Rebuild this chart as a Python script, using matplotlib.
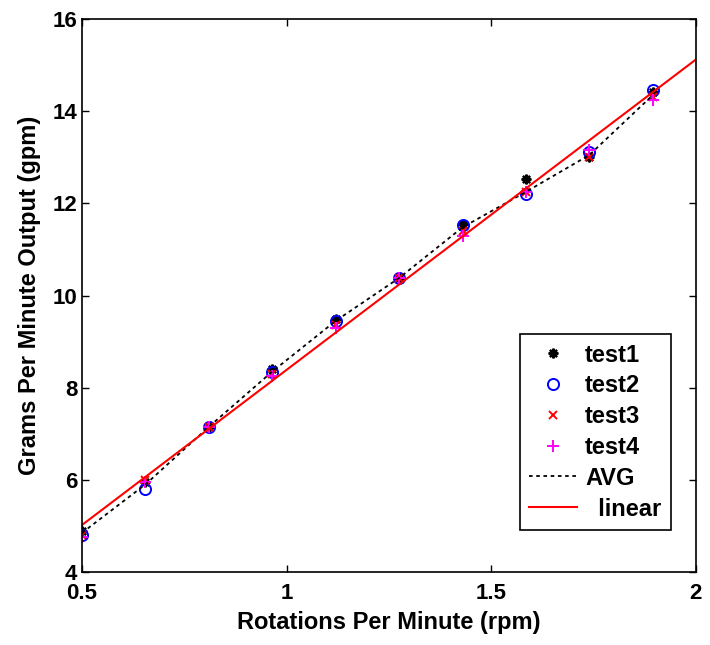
import numpy as np
import matplotlib
matplotlib.use("Agg")
import matplotlib.pyplot as plt

plt.rcParams['font.family'] = ['Liberation Sans', 'DejaVu Sans']
plt.rcParams['font.weight'] = 'bold'

# rotations per minute (x) and grams per minute output for each test run
rpm = [0.5, 0.655, 0.81, 0.965, 1.12, 1.275, 1.43, 1.585, 1.74, 1.895]
test1 = [4.88, 5.95, 7.15, 8.40, 9.50, 10.38, 11.55, 12.52, 13.00, 14.42]
test2 = [4.80, 5.80, 7.15, 8.35, 9.45, 10.38, 11.52, 12.20, 13.12, 14.45]
test3 = [4.80, 6.00, 7.15, 8.30, 9.35, 10.38, 11.40, 12.25, 13.00, 14.30]
test4 = [4.75, 5.95, 7.15, 8.25, 9.30, 10.38, 11.30, 12.25, 13.15, 14.25]
avg = [4.85, 5.90, 7.15, 8.35, 9.45, 10.38, 11.48, 12.25, 13.05, 14.35]

linear_x = [0.5, 2.0]
linear_y = [5.02, 15.12]

fig = plt.figure(figsize=(7.1, 6.45), dpi=100)
ax = fig.add_axes([0.1155, 0.1132, 0.8645, 0.8573])

ax.plot(rpm, test1, linestyle='none', marker=(8, 2, 0), color='black', markersize=7, mew=1.6, label='test1')
ax.plot(rpm, test2, linestyle='none', marker='o', mfc='none', mec='blue', markersize=8, mew=1.4, label='test2')
ax.plot(rpm, test3, linestyle='none', marker='x', color='red', markersize=6, mew=1.4, label='test3')
ax.plot(rpm, test4, linestyle='none', marker='+', color='magenta', markersize=8, mew=1.4, label='test4')
ax.plot(rpm, avg, linestyle=(0, (2, 2)), color='black', linewidth=1.3, label='AVG')
ax.plot(linear_x, linear_y, color='red', linewidth=1.5, label='  linear')

ax.set_xlim(0.5, 2)
ax.set_ylim(4, 16)
ax.set_xticks([0.5, 1, 1.5, 2])
ax.set_xticklabels(['0.5', '1', '1.5', '2'])
ax.set_yticks([4, 6, 8, 10, 12, 14, 16])
ax.tick_params(direction='in', length=5, width=1, labelsize=16, top=True, right=True)
ax.tick_params(axis='x', pad=8)
ax.tick_params(axis='y', pad=3.5)
for s in ax.spines.values():
    s.set_linewidth(1.2)

ax.set_xlabel('Rotations Per Minute (rpm)', fontsize=17, fontweight='bold', labelpad=5)
ax.set_ylabel('Grams Per Minute Output (gpm)', fontsize=17, fontweight='bold', labelpad=8)

leg = ax.legend(loc='lower right', bbox_to_anchor=(0.959, 0.076), fontsize=17, frameon=True,
                fancybox=False, edgecolor='black', framealpha=1, handlelength=2.0,
                borderpad=0.4, labelspacing=0.33, handletextpad=0.35, borderaxespad=0)
leg.get_frame().set_linewidth(1.2)

fig.savefig('out.png', dpi=100)
